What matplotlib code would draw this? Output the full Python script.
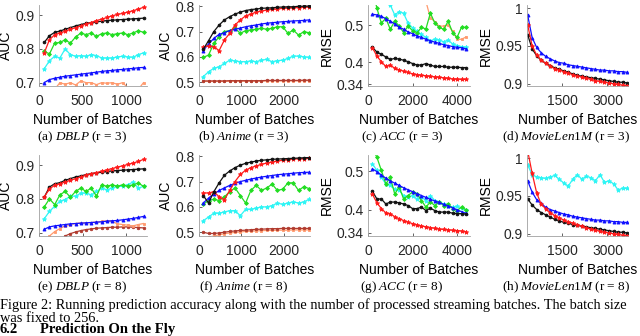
import matplotlib
matplotlib.use("Agg")
import matplotlib.pyplot as plt

plt.rcParams['font.family'] = 'Liberation Sans'
plt.rcParams['mathtext.fontset'] = 'custom'
plt.rcParams['mathtext.rm'] = 'Liberation Serif'
plt.rcParams['mathtext.it'] = 'Liberation Serif:italic'

# batch positions of each dataset
x_dblp = list(range(60, 1201, 60))
x_anime = list(range(100, 2601, 125))
x_acc = list(range(200, 4401, 200))
x_movie = list(range(350, 3651, 150))

# (a) DBLP r = 3
red_a = [0.788, 0.827, 0.842, 0.847, 0.852, 0.858, 0.863, 0.868, 0.874, 0.878, 0.884, 0.888, 0.893, 0.898, 0.902, 0.905, 0.909, 0.913, 0.918, 0.923]
black_a = [0.819, 0.839, 0.849, 0.853, 0.858, 0.863, 0.868, 0.872, 0.876, 0.878, 0.880, 0.882, 0.884, 0.885, 0.886, 0.887, 0.888, 0.889, 0.890, 0.891]
green_a = [0.793, 0.785, 0.817, 0.819, 0.827, 0.817, 0.835, 0.847, 0.842, 0.847, 0.837, 0.845, 0.847, 0.842, 0.845, 0.847, 0.842, 0.847, 0.854, 0.849]
cyan_a = [0.741, 0.765, 0.778, 0.773, 0.800, 0.783, 0.778, 0.780, 0.778, 0.783, 0.780, 0.773, 0.773, 0.773, 0.776, 0.778, 0.776, 0.775, 0.783, 0.788]
blue_a = [0.700, 0.709, 0.713, 0.716, 0.719, 0.721, 0.723, 0.725, 0.727, 0.729, 0.731, 0.733, 0.735, 0.736, 0.738, 0.739, 0.741, 0.742, 0.744, 0.745]
salmon_a = [0.660, 0.670, 0.680, 0.700, 0.695, 0.700, 0.693, 0.705, 0.700, 0.700, 0.694, 0.700, 0.698, 0.700, 0.695, 0.700, 0.685, 0.675, 0.680, 0.700]

# (b) Anime r = 3
red_b = [0.640, 0.643, 0.640, 0.625, 0.667, 0.693, 0.726, 0.746, 0.762, 0.769, 0.777, 0.781, 0.785, 0.788, 0.789, 0.792, 0.793, 0.794, 0.795, 0.796, 0.797]
black_b = [0.630, 0.664, 0.700, 0.726, 0.746, 0.759, 0.769, 0.777, 0.783, 0.787, 0.789, 0.792, 0.793, 0.794, 0.796, 0.797, 0.798, 0.798, 0.800, 0.800, 0.801]
green_b = [0.598, 0.607, 0.653, 0.680, 0.700, 0.704, 0.713, 0.693, 0.704, 0.706, 0.709, 0.713, 0.709, 0.713, 0.719, 0.719, 0.693, 0.706, 0.686, 0.700, 0.695]
cyan_b = [0.522, 0.541, 0.555, 0.561, 0.574, 0.587, 0.584, 0.581, 0.581, 0.584, 0.581, 0.587, 0.590, 0.581, 0.585, 0.587, 0.594, 0.603, 0.603, 0.600, 0.598]
blue_b = [0.625, 0.651, 0.673, 0.689, 0.696, 0.704, 0.709, 0.714, 0.719, 0.723, 0.726, 0.730, 0.733, 0.735, 0.737, 0.739, 0.740, 0.742, 0.743, 0.744, 0.746]
salmon_b = [0.503, 0.503, 0.503, 0.503, 0.503, 0.504, 0.504, 0.504, 0.504, 0.504, 0.504, 0.504, 0.505, 0.505, 0.505, 0.505, 0.505, 0.505, 0.505, 0.506, 0.506]
darkred_b = [0.505, 0.505, 0.505, 0.505, 0.505, 0.506, 0.506, 0.506, 0.506, 0.506, 0.506, 0.506, 0.507, 0.507, 0.507, 0.507, 0.507, 0.507, 0.507, 0.508, 0.508]

# (c) ACC r = 3
red_c = [0.439, 0.416, 0.401, 0.388, 0.392, 0.383, 0.379, 0.375, 0.372, 0.368, 0.366, 0.364, 0.363, 0.361, 0.360, 0.359, 0.357, 0.356, 0.354, 0.354, 0.353, 0.353]
black_c = [0.440, 0.427, 0.421, 0.414, 0.407, 0.410, 0.408, 0.405, 0.401, 0.396, 0.392, 0.392, 0.396, 0.392, 0.388, 0.388, 0.388, 0.386, 0.386, 0.386, 0.385, 0.385]
green_c = [0.600, 0.546, 0.506, 0.519, 0.489, 0.511, 0.498, 0.480, 0.498, 0.485, 0.480, 0.494, 0.490, 0.533, 0.506, 0.494, 0.489, 0.511, 0.480, 0.467, 0.495, 0.494]
cyan_c = [0.640, 0.620, 0.600, 0.580, 0.555, 0.528, 0.537, 0.532, 0.506, 0.493, 0.484, 0.475, 0.467, 0.458, 0.462, 0.460, 0.455, 0.460, 0.449, 0.445, 0.442, 0.440]
blue_c = [0.530, 0.528, 0.524, 0.518, 0.511, 0.504, 0.495, 0.489, 0.482, 0.477, 0.471, 0.467, 0.462, 0.458, 0.454, 0.451, 0.447, 0.445, 0.442, 0.440, 0.439, 0.436]
salmon_c = [0.700, 0.680, 0.660, 0.650, 0.640, 0.630, 0.620, 0.610, 0.600, 0.590, 0.580, 0.570, 0.565, 0.520, 0.510, 0.497, 0.498, 0.500, 0.484, 0.462, 0.462, 0.468]

# (d) MovieLen1M r = 3
red_d = [0.978, 0.950, 0.938, 0.931, 0.927, 0.923, 0.920, 0.918, 0.916, 0.914, 0.912, 0.910, 0.909, 0.907, 0.906, 0.904, 0.903, 0.902, 0.901, 0.900, 0.899, 0.898, 0.897]
black_d = [0.965, 0.946, 0.937, 0.931, 0.927, 0.924, 0.921, 0.919, 0.917, 0.915, 0.913, 0.911, 0.910, 0.909, 0.908, 0.907, 0.906, 0.905, 0.904, 0.903, 0.902, 0.902, 0.901]
blue_d = [0.991, 0.961, 0.948, 0.941, 0.936, 0.933, 0.930, 0.928, 0.927, 0.925, 0.924, 0.923, 0.922, 0.921, 0.920, 0.919, 0.918, 0.918, 0.917, 0.917, 0.916, 0.916, 0.915]

# (e) DBLP r = 8
red_e = [0.805, 0.830, 0.840, 0.845, 0.850, 0.855, 0.860, 0.865, 0.870, 0.875, 0.878, 0.882, 0.886, 0.890, 0.894, 0.898, 0.902, 0.906, 0.911, 0.917]
black_e = [0.805, 0.835, 0.845, 0.848, 0.855, 0.860, 0.865, 0.868, 0.872, 0.875, 0.877, 0.879, 0.881, 0.883, 0.884, 0.885, 0.886, 0.887, 0.888, 0.889]
green_e = [0.776, 0.800, 0.783, 0.812, 0.822, 0.805, 0.822, 0.832, 0.822, 0.832, 0.808, 0.842, 0.837, 0.842, 0.837, 0.842, 0.837, 0.842, 0.847, 0.837]
cyan_e = [0.741, 0.763, 0.778, 0.793, 0.798, 0.808, 0.808, 0.817, 0.817, 0.812, 0.822, 0.832, 0.827, 0.832, 0.837, 0.837, 0.842, 0.850, 0.832, 0.837]
blue_e = [0.710, 0.717, 0.720, 0.722, 0.724, 0.726, 0.727, 0.728, 0.729, 0.730, 0.731, 0.732, 0.734, 0.735, 0.736, 0.738, 0.740, 0.742, 0.745, 0.748]
salmon_e = [0.670, 0.690, 0.703, 0.712, 0.720, 0.724, 0.727, 0.729, 0.728, 0.730, 0.731, 0.733, 0.735, 0.733, 0.726, 0.724, 0.722, 0.720, 0.724, 0.727]
darkred_e = [0.640, 0.655, 0.670, 0.680, 0.690, 0.697, 0.702, 0.706, 0.709, 0.711, 0.713, 0.714, 0.715, 0.716, 0.716, 0.717, 0.717, 0.716, 0.715, 0.714]

# (f) Anime r = 8
red_f = [0.655, 0.655, 0.660, 0.640, 0.628, 0.665, 0.700, 0.728, 0.745, 0.755, 0.762, 0.768, 0.773, 0.777, 0.781, 0.784, 0.787, 0.789, 0.790, 0.791, 0.792]
black_f = [0.645, 0.615, 0.660, 0.695, 0.725, 0.742, 0.755, 0.765, 0.772, 0.777, 0.781, 0.784, 0.786, 0.788, 0.789, 0.790, 0.791, 0.792, 0.793, 0.794, 0.795]
green_f = [0.610, 0.625, 0.630, 0.625, 0.640, 0.660, 0.675, 0.645, 0.615, 0.665, 0.685, 0.665, 0.675, 0.690, 0.665, 0.670, 0.695, 0.695, 0.665, 0.680, 0.672]
cyan_f = [0.545, 0.560, 0.575, 0.575, 0.580, 0.585, 0.585, 0.565, 0.590, 0.590, 0.595, 0.600, 0.600, 0.605, 0.615, 0.610, 0.615, 0.620, 0.615, 0.620, 0.630]
blue_f = [0.615, 0.635, 0.650, 0.665, 0.675, 0.685, 0.693, 0.700, 0.705, 0.710, 0.714, 0.718, 0.721, 0.724, 0.727, 0.729, 0.731, 0.733, 0.735, 0.736, 0.737]
salmon_f = [0.470, 0.480, 0.485, 0.490, 0.494, 0.497, 0.499, 0.501, 0.503, 0.504, 0.505, 0.506, 0.507, 0.507, 0.508, 0.508, 0.508, 0.509, 0.509, 0.509, 0.509]
darkred_f = [0.500, 0.495, 0.495, 0.497, 0.500, 0.503, 0.505, 0.507, 0.508, 0.510, 0.511, 0.512, 0.513, 0.514, 0.514, 0.515, 0.515, 0.515, 0.515, 0.515, 0.515]

# (g) ACC r = 8
red_g = [0.440, 0.418, 0.403, 0.392, 0.390, 0.382, 0.377, 0.372, 0.368, 0.364, 0.361, 0.358, 0.356, 0.354, 0.352, 0.350, 0.349, 0.348, 0.347, 0.346, 0.345, 0.343]
black_g = [0.448, 0.428, 0.428, 0.415, 0.420, 0.420, 0.418, 0.415, 0.411, 0.403, 0.403, 0.407, 0.398, 0.404, 0.398, 0.394, 0.394, 0.394, 0.391, 0.390, 0.390, 0.389]
green_g = [0.560, 0.536, 0.502, 0.467, 0.484, 0.441, 0.459, 0.428, 0.437, 0.446, 0.441, 0.424, 0.407, 0.420, 0.411, 0.420, 0.411, 0.415, 0.403, 0.398, 0.407, 0.400]
cyan_g = [0.519, 0.502, 0.484, 0.467, 0.463, 0.454, 0.450, 0.437, 0.433, 0.437, 0.428, 0.433, 0.424, 0.437, 0.424, 0.420, 0.415, 0.411, 0.407, 0.409, 0.405, 0.400]
blue_g = [0.506, 0.499, 0.490, 0.482, 0.475, 0.469, 0.463, 0.457, 0.452, 0.447, 0.442, 0.437, 0.432, 0.427, 0.423, 0.419, 0.414, 0.410, 0.405, 0.400, 0.395, 0.391]

# (h) MovieLen1M r = 8
red_h = [1.010, 0.980, 0.954, 0.939, 0.933, 0.928, 0.924, 0.921, 0.918, 0.916, 0.914, 0.912, 0.910, 0.908, 0.906, 0.905, 0.903, 0.902, 0.901, 0.900, 0.899, 0.898, 0.897]
black_h = [0.946, 0.938, 0.932, 0.928, 0.925, 0.922, 0.919, 0.917, 0.915, 0.914, 0.912, 0.911, 0.910, 0.909, 0.908, 0.907, 0.906, 0.905, 0.904, 0.903, 0.902, 0.902, 0.901]
cyan_h = [0.991, 0.978, 0.975, 0.974, 0.973, 0.975, 0.977, 0.972, 0.967, 0.963, 0.972, 0.978, 0.972, 0.976, 0.974, 0.970, 0.978, 0.968, 0.970, 0.966, 0.958, 0.960, 0.960]
blue_h = [0.970, 0.955, 0.945, 0.940, 0.935, 0.932, 0.930, 0.928, 0.926, 0.925, 0.923, 0.922, 0.921, 0.920, 0.919, 0.918, 0.918, 0.917, 0.917, 0.916, 0.916, 0.915, 0.915]

captions = [r'(a) $\mathit{DBLP}$ (r = 3)', r'(b) $\mathit{Anime}$ (r = 3)',
            r'(c) $\mathit{ACC}$ (r = 3)', r'(d) $\mathit{MovieLen1M}$ (r = 3)',
            r'(e) $\mathit{DBLP}$ (r = 8)', r'(f) $\mathit{Anime}$ (r = 8)',
            r'(g) $\mathit{ACC}$ (r = 8)', r'(h) $\mathit{MovieLen1M}$ (r = 8)']

# line style per series: colour, marker, marker size
STYLES = {
    'salmon': ('#ff9a6e', 's', 2.0),
    'darkred': ('#b03a2e', 'o', 1.8),
    'cyan': ('#2ef5f5', '*', 3.2),
    'green': ('#22dd22', 'D', 2.0),
    'blue': ('#1010ff', '^', 2.2),
    'black': ('#111111', 'o', 2.0),
    'red': ('#ff1a1a', '*', 3.2),
}


def draw_panel(ax, x, series, ylim, yticks, yticklabels, xlim, xticks, ylabel):
    for name, vals in series:
        color, marker, ms = STYLES[name]
        ax.plot(x, vals, color=color, marker=marker, markersize=ms, linewidth=0.9,
                markeredgewidth=0.6)
    ax.set_xlim(xlim)
    ax.set_ylim(ylim)
    ax.set_xticks(xticks)
    ax.set_yticks(yticks)
    ax.set_yticklabels(yticklabels)
    ax.set_ylabel(ylabel, fontsize=10, labelpad=2)
    ax.set_xlabel('Number of Batches', fontsize=10, labelpad=3)
    ax.tick_params(direction='in', length=2, width=0.5, labelsize=10,
                   colors='#262626')
    ax.tick_params(axis='x', pad=6)
    ax.tick_params(axis='y', pad=3)
    for side in ['top', 'right']:
        ax.spines[side].set_visible(False)
    for side in ['left', 'bottom']:
        ax.spines[side].set_color('#a0a0a0')
        ax.spines[side].set_linewidth(0.6)


fig = plt.figure(figsize=(6.4, 3.36), dpi=100)
W, H = 640.0, 336.0
cols = [(39, 147), (199, 310), (368, 470), (527, 628)]
rows = [(5, 86), (155, 236)]


def make_ax(row, col):
    l, r = cols[col]
    t, b = rows[row]
    return fig.add_axes([l / W, 1 - b / H, (r - l) / W, (b - t) / H])


ax = make_ax(0, 0)
draw_panel(ax, x_dblp, [('salmon', salmon_a), ('blue', blue_a), ('cyan', cyan_a), ('green', green_a),
                        ('black', black_a), ('red', red_a)],
           (0.69, 0.93), [0.7, 0.8, 0.9], ['0.7', '0.8', '0.9'], (0, 1240), [0, 500, 1000], 'AUC')
ax = make_ax(0, 1)
draw_panel(ax, x_anime, [('salmon', salmon_b), ('darkred', darkred_b), ('cyan', cyan_b), ('green', green_b),
                         ('blue', blue_b), ('red', red_b), ('black', black_b)],
           (0.485, 0.805), [0.5, 0.6, 0.7, 0.8], ['0.5', '0.6', '0.7', '0.8'], (0, 2620), [0, 1000, 2000], 'AUC')
ax = make_ax(0, 2)
draw_panel(ax, x_acc, [('salmon', salmon_c), ('cyan', cyan_c), ('green', green_c), ('blue', blue_c),
                       ('black', black_c), ('red', red_c)],
           (0.335, 0.555), [0.34, 0.4, 0.5], ['0.34', '0.4', '0.5'], (0, 4580), [0, 2000, 4000], 'RMSE')
ax = make_ax(0, 3)
draw_panel(ax, x_movie, [('blue', blue_d), ('black', black_d), ('red', red_d)],
           (0.897, 1.004), [0.9, 0.95, 1.0], ['0.9', '0.95', '1'], (330, 3680), [1500, 3000], 'RMSE')

ax = make_ax(1, 0)
draw_panel(ax, x_dblp, [('darkred', darkred_e), ('salmon', salmon_e), ('blue', blue_e), ('cyan', cyan_e),
                        ('green', green_e), ('black', black_e), ('red', red_e)],
           (0.69, 0.93), [0.7, 0.8, 0.9], ['0.7', '0.8', '0.9'], (0, 1240), [0, 500, 1000], 'AUC')
ax = make_ax(1, 1)
draw_panel(ax, x_anime, [('salmon', salmon_f), ('darkred', darkred_f), ('cyan', cyan_f), ('green', green_f),
                         ('blue', blue_f), ('red', red_f), ('black', black_f)],
           (0.485, 0.805), [0.5, 0.6, 0.7, 0.8], ['0.5', '0.6', '0.7', '0.8'], (0, 2620), [0, 1000, 2000], 'AUC')
ax = make_ax(1, 2)
draw_panel(ax, x_acc, [('cyan', cyan_g), ('green', green_g), ('blue', blue_g),
                       ('black', black_g), ('red', red_g)],
           (0.332, 0.542), [0.34, 0.4, 0.5], ['0.34', '0.4', '0.5'], (0, 4580), [0, 2000, 4000], 'RMSE')
ax = make_ax(1, 3)
draw_panel(ax, x_movie, [('cyan', cyan_h), ('blue', blue_h), ('black', black_h), ('red', red_h)],
           (0.897, 1.004), [0.9, 0.95, 1.0], ['0.9', '0.95', '1'], (330, 3680), [1500, 3000], 'RMSE')

# sub-captions
cap_x = [82, 244, 402, 566]
cap_y = [137, 287]
for i, cap in enumerate(captions):
    fig.text(cap_x[i % 4] / W, 1 - cap_y[i // 4] / H, cap, family='Liberation Serif',
             fontsize=9.5, ha='center', va='center')

fig.text(0.0, 1 - 305 / H, 'Figure 2: Running prediction accuracy along with the number of processed '
         'streaming batches. The batch size', family='Liberation Serif', fontsize=10.4,
         ha='left', va='center')
fig.text(0.0, 1 - 318 / H, 'was fixed to 256.', family='Liberation Serif', fontsize=10.4,
         ha='left', va='center')
fig.text(0.0, 0.0, '6.2', family='Liberation Serif', fontsize=10.5, weight='bold',
         ha='left', va='bottom')
fig.text(40 / W, 0.0, 'Prediction On the Fly', family='Liberation Serif', fontsize=10.5,
         weight='bold', ha='left', va='bottom')

fig.savefig('out.png', dpi=100)
